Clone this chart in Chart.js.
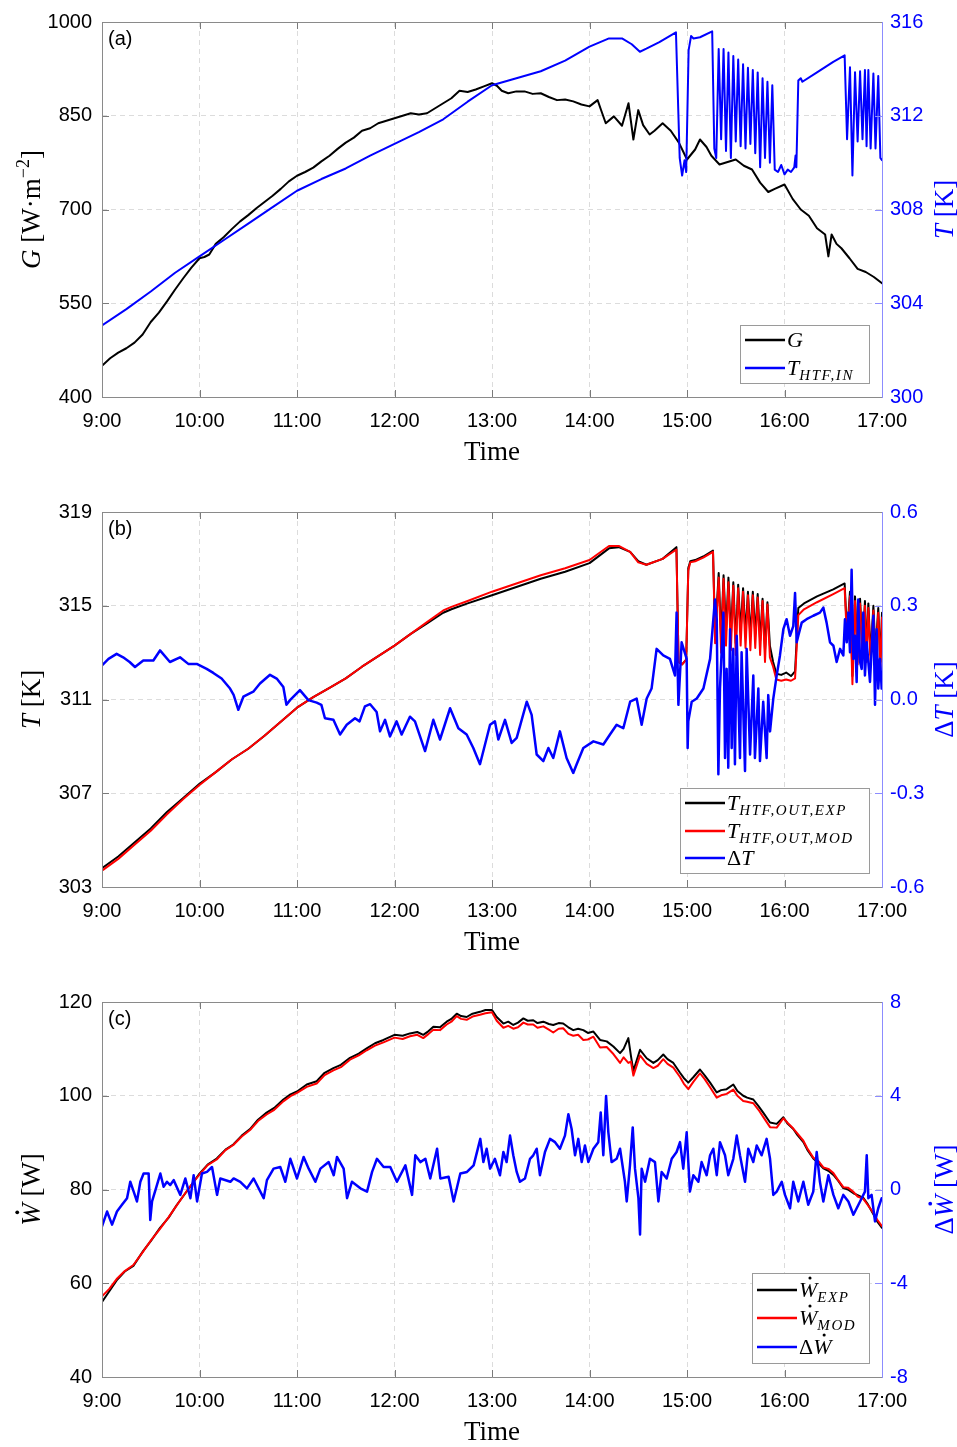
<!DOCTYPE html>
<html>
<head>
<meta charset="utf-8">
<script src="https://cdn.jsdelivr.net/npm/chart.js@4.4.0/dist/chart.umd.min.js"></script>
<style>
  body { margin: 0; background: #fff; overflow: hidden; }
  .panel { position: absolute; left: 0; width: 957px; height: 490px; }
</style>
</head>
<body>
<div class="panel" style="top:0px"><canvas id="chartA" width="957" height="490"></canvas></div>
<div class="panel" style="top:490px"><canvas id="chartB" width="957" height="490"></canvas></div>
<div class="panel" style="top:980px"><canvas id="chartC" width="957" height="490"></canvas></div>
<script>
// time is in minutes after 9:00
const xTicks = [0, 60, 120, 180, 240, 300, 360, 420, 480];
const xTickLabels = ['9:00', '10:00', '11:00', '12:00', '13:00', '14:00', '15:00', '16:00', '17:00'];

// (a) irradiance and inlet temperature
const gTicks = [400, 550, 700, 850, 1000];
const tinTicks = [300, 304, 308, 312, 316];
const gTime = [0,5,10,15,20,25,30,35,40,45,50,55,60,63,66,
  70,75,80,85,90,95,100,105,110,115,120,125,130,135,140,145,150,155,160,165,170,175,180,185,190,195,200,205,210,215,220,225,230,235,240,
  243,246,250,255,260,265,270,275,280,285,290,295,300,305,307,310,315,320,324,327,330,333,337,340,
  345,350,355,360,365,368,372,375,380,385,390,395,400,405,410,414,420,425,430,435,440,445,447,449,452,455,460,465,470,475,480];
const gVal = [450,462,471,478,487,500,520,535,553,572,590,607,622,624,628,
  645,656,669,681,691,702,712,722,733,745,754,760,767,777,786,797,807,815,826,830,838,842,846,850,854,852,854,862,870,878,890,888,892,897,902,
  898,890,886,889,889,885,886,880,875,876,873,868,865,875,860,838,849,834,870,812,859,835,820,826,
  838,826,807,780,796,812,800,786,772,776,780,770,764,743,728,733,740,717,700,690,670,660,625,660,645,638,622,605,600,592,582];
const tinTime = [0,15,30,45,60,75,90,105,120,135,150,165,180,195,210,225,240,255,270,285,300,312,320,326,331,335,343,
  353.2,355.5,357,358.5,359.5,361,362.5,364,368,375.5,376.8,378,
  379.5,381,382.5,384,385.5,387,388.5,390,391.5,393,394.5,396,397.5,399,400.5,402,403.5,405,406.5,408,409.5,411,412.5,414,
  416,418,420,422,424,426,426.8,427.3,428.5,430,431,440,450,457,
  458.5,460.3,461.8,463.4,465,466.5,468,469.5,470.5,471.6,473,474.7,476,477.7,479,480];
const tinVal = [303.05,303.75,304.5,305.3,306.0,306.7,307.4,308.1,308.8,309.3,309.75,310.3,310.8,311.3,311.85,312.6,313.3,313.6,313.9,314.35,314.95,315.3,315.3,315.05,314.73,314.86,315.14,
  315.56,310.2,309.45,310.1,309.6,314.8,315.4,315.3,315.35,315.6,310.6,310.2,
  314.85,311.0,314.85,310.5,314.7,310.2,314.55,310.9,314.4,310.7,314.2,310.6,314.05,310.8,313.95,310.4,313.85,309.8,313.6,310.2,313.45,310.0,313.3,309.7,
  309.6,309.9,309.5,309.7,309.6,309.8,310.3,309.8,313.5,313.6,313.45,313.85,314.3,314.58,
  311.0,314.07,309.45,313.86,310.9,313.9,311.0,313.95,310.7,313.95,310.6,313.8,310.6,313.7,310.2,310.1];

// (b) outlet temperatures and their difference
const toutTicks = [303, 307, 311, 315, 319];
const dtTicks = [-0.6, -0.3, 0, 0.3, 0.6];
const toutTime = [0,10,20,30,40,50,60,70,80,90,100,110,120,130,140,150,160,170,180,190,200,210,
  215,225,240,255,270,285,300,312,318,325,330,335,345,
  353.5,354.8,357,359.5,360.8,362,365,370,376,377.3,
  379.5,381,382.5,384,385.5,387,388.5,390,391.5,393,394.5,396,397.5,399,400.5,402,403.5,405,406.5,408,409.5,411,
  413,415,418,421,424,426.5,428.5,432,440,450,457,
  458.5,460.3,461.8,463.4,465,466.5,468,469.5,470.5,471.6,473,474.7,476,477.7,479,480];
const toutExp = [303.8,304.3,304.9,305.5,306.2,306.8,307.4,307.9,308.45,308.9,309.45,310.05,310.65,311.1,311.5,311.9,312.4,312.85,313.3,313.8,314.25,314.7,
  314.85,315.1,315.45,315.8,316.15,316.45,316.82,317.45,317.5,317.3,316.9,316.75,317.0,
  317.5,312.6,312.5,312.7,316.6,316.9,316.95,317.1,317.35,313.7,
  316.4,313.6,316.3,313.9,316.2,313.7,316.0,313.4,315.9,313.9,315.75,313.8,315.6,313.7,315.6,313.8,315.5,313.5,315.3,313.1,315.15,313.3,
  312.6,312.1,312.05,312.15,312.0,312.2,314.9,315.1,315.4,315.7,315.95,
  313.8,315.6,312.0,315.4,312.8,315.3,313.0,315.2,312.9,315.1,312.9,315.0,313.0,314.9,312.6,314.7];
const toutMod = [303.7,304.2,304.8,305.4,306.1,306.75,307.35,307.9,308.45,308.9,309.45,310.05,310.65,311.1,311.5,311.9,312.4,312.85,313.3,313.8,314.3,314.8,
  314.95,315.2,315.6,315.95,316.3,316.6,316.95,317.55,317.55,317.3,316.85,316.75,317.0,
  317.4,312.6,312.5,312.7,316.5,316.85,316.9,317.05,317.3,313.4,
  316.2,313.0,316.15,313.3,316.0,313.1,315.85,312.9,315.75,313.3,315.6,313.2,315.45,313.1,315.45,313.2,315.35,312.9,315.2,312.6,315.05,312.8,
  312.4,311.85,311.8,311.85,311.8,311.9,314.6,314.85,315.15,315.5,315.75,
  313.5,315.4,311.65,315.2,312.5,315.1,312.7,315.0,312.6,314.9,312.6,314.8,312.7,314.7,312.3,314.5];
const dtTime = [0,4,9,13,17,20.3,25.4,31.6,35.7,41.8,
  48,53.1,58.3,64.4,68.5,73.6,78.8,81,83.9,87,
  93.1,97.2,103.4,107.5,111.6,113.5,115.7,121.8,127,132.1,
  135,137.2,142.4,146.5,150.6,155.7,158.5,161.8,165,169,
  171.1,174.2,177.2,181.3,184.4,189.5,192.6,198.8,203.9,208,
  214.2,219.3,224.4,228.5,232.6,238.8,241.8,243.9,248,252.1,
  255.2,261.4,264.4,267.5,271.6,274.7,277.7,281.8,285.9,290,
  292.1,296.2,302.4,308.5,312.6,316.7,320.8,325,329,332.1,
  335.2,338.2,341.3,345.4,349.5,352.6,353.6,354.7,356.7,359.8,
  360.4,360.8,362.9,366,370.1,374.2,377.2,378.3,379.3,380.3,
  382.4,383.4,384.4,385.4,386.5,387.5,388.5,389.5,390.6,392.6,
  393.6,395.7,396.7,398.8,400.8,401.8,403.9,404.9,406.9,409,
  410,411.1,413.1,415.2,417.2,419.3,421.3,423.4,425.4,426.5,
  427.5,428.5,430.6,433.6,437.7,441.8,443.9,445.9,448,450.1,
  452.1,454.2,456.2,457.2,458.3,459.3,460.3,461.3,462.4,463.4,
  464.4,465.4,466.5,467.5,468.5,469.5,470.6,472.6,474.7,475.7,
  476.7,477.7,478.8,479.8];
const dtVal = [0.109,0.13,0.146,0.135,0.12,0.104,0.125,0.125,0.157,0.12,
  0.135,0.114,0.114,0.098,0.085,0.067,0.035,0.015,-0.033,0.009,
  0.025,0.051,0.079,0.067,0.04,-0.017,-0.002,0.03,-0.002,-0.01,
  -0.017,-0.06,-0.065,-0.112,-0.081,-0.06,-0.07,-0.022,-0.015,-0.04,
  -0.102,-0.065,-0.118,-0.07,-0.112,-0.055,-0.07,-0.165,-0.065,-0.128,
  -0.028,-0.092,-0.112,-0.155,-0.207,-0.081,-0.07,-0.128,-0.065,-0.139,
  -0.123,-0.007,-0.049,-0.176,-0.197,-0.155,-0.187,-0.102,-0.187,-0.235,
  -0.207,-0.155,-0.134,-0.144,-0.112,-0.081,-0.092,-0.007,0.003,-0.081,
  0.003,0.035,0.162,0.141,0.13,0.077,0.278,-0.017,0.183,0.13,
  -0.155,-0.07,-0.007,0.003,0.035,0.13,0.32,0.257,-0.239,0.035,
  0.278,-0.187,0.098,-0.218,0.225,-0.155,0.162,-0.207,0.204,-0.187,
  0.151,-0.229,0.162,-0.176,0.077,-0.187,0.035,-0.197,-0.007,-0.187,
  0.014,-0.102,0.003,0.077,0.141,0.225,0.257,0.204,0.235,0.341,
  0.183,0.204,0.246,0.257,0.268,0.278,0.294,0.246,0.183,0.172,
  0.12,0.162,0.141,0.257,0.183,0.278,0.151,0.415,0.13,0.204,
  0.056,0.32,0.12,0.098,0.278,0.077,0.183,0.056,0.268,-0.017,
  0.225,0.035,0.13,0.035];

// (c) power and its difference
const wTicks = [40, 60, 80, 100, 120];
const dwTicks = [-8, -4, 0, 4, 8];
const wTime = [0,4.5,9,14,19.3,25.4,30,35.7,41,46,
  53,60,65,70.6,76,80.8,86,91.1,96,101.3,
  106,111.6,116,120,126,132.1,137,142.4,147,152.6,
  158,162.9,168,173.2,180,185,189.5,194,197.7,201,
  203.9,208,212.1,215,218.3,221,224.4,228,232.6,236,
  240,242.9,247,250,253.1,256,259.3,262,265.4,268,
  271.6,275,277.7,281,283.8,287,290,293,296.2,299,
  302.4,306.5,310.6,314.7,318.8,321,323.9,325.5,327,331.1,
  335.2,339.3,342,345.4,348,351.6,355.7,358,360.8,364,
  368,371,374.2,378.3,381,384.4,388.5,391,394.6,397,
  400.8,404,406.9,411.1,415.2,419.3,422,425.4,428,431.6,
  434,437.7,441,443.9,447,450.1,453,456.2,459,462.4,
  465,468.5,471,474.7,477,480];
const wExp = [56.0,58.3,60.6,62.5,63.7,66.9,69.0,71.8,74.0,76.7,
  80.0,83.4,85.3,86.6,88.5,89.6,91.5,92.9,94.9,96.4,
  97.4,99.2,100.3,100.9,102.4,103.1,104.9,105.9,106.6,108.1,
  109.0,110.1,111.2,111.9,113.0,112.8,113.3,113.6,113.0,113.8,
  114.7,114.6,115.8,116.4,117.5,117.0,116.8,117.5,117.9,118.3,
  118.3,116.8,115.4,115.8,115.1,115.6,116.5,116.0,116.1,115.5,
  115.8,115.3,115.1,115.5,115.4,114.6,114.0,114.3,114.0,113.4,
  113.7,111.9,111.6,110.5,109.1,110.0,112.3,108.5,105.3,109.8,
  108.0,107.0,107.6,108.8,107.8,107.0,104.9,103.8,102.8,104.0,
  105.6,104.3,102.8,100.7,101.2,101.4,102.4,101.0,100.0,99.6,
  99.2,97.8,96.4,94.3,94.0,95.4,94.0,92.9,91.6,90.1,
  88.5,86.6,85.6,84.5,84.0,83.1,81.9,80.3,80.0,79.2,
  78.8,78.2,77.0,74.7,73.2,71.8];
const wMod = [57.2,58.8,60.9,62.6,63.9,66.8,69.1,71.6,74.1,76.6,
  80.1,83.2,85.2,86.4,88.4,89.5,91.3,92.7,94.6,96.0,
  97.0,98.8,99.9,100.6,101.9,102.6,104.4,105.4,106.1,107.7,
  108.6,109.7,110.7,111.4,112.4,112.1,112.7,113.0,112.3,113.2,
  114.1,114.0,115.2,115.8,117.0,116.4,116.2,116.9,117.3,117.6,
  117.8,116.0,114.5,114.9,114.3,114.6,115.6,115.2,115.2,114.5,
  114.8,114.1,113.5,114.3,114.4,113.2,112.8,113.0,111.9,112.0,
  112.6,110.3,110.4,108.9,107.0,108.2,107.0,107.3,104.3,108.6,
  106.8,105.9,106.4,107.8,106.8,106.0,104.0,102.6,101.4,103.0,
  104.8,103.5,101.8,99.6,100.1,100.4,101.3,100.0,98.9,98.7,
  98.4,97.0,95.5,93.3,93.2,95.2,94.2,93.0,91.9,90.4,
  88.8,86.8,86.0,84.7,84.4,83.5,82.0,80.5,80.4,79.5,
  78.5,78.0,76.8,75.0,73.6,72.2];
const dwTime = [0,3.1,6.2,9.2,12.3,15.4,17.4,19.5,21.5,23.6,
  25.6,28.7,29.7,30.8,33.8,35.9,37.9,40,42,44.1,
  48.2,51.3,54.4,56.4,58.5,61.5,64.6,67.7,70.8,72.8,
  79,81,85.1,89.2,93.3,99.5,101.5,105.6,109.7,112.8,
  115.9,120,124.1,127.2,131.3,134.4,139.5,142.6,144.6,148.7,
  150.8,153.8,159,163.1,166.2,169.2,173.3,177.4,181.5,186.7,
  190.8,192.8,195.9,199,202,206.2,208.2,213.3,216.4,220.5,
  224.6,228.7,232.8,234.7,236.7,238.8,241.8,244.9,247,249,
  251.1,253.1,255.2,257.2,260.3,263.4,265.4,267.5,269.5,272.6,
  275.7,278.8,281.8,284.9,287,289,291.1,293.1,295.2,297.2,
  299.3,302.4,305.4,306.9,308.5,310.2,311.6,313.6,316.7,318.8,
  321.8,322.9,324.9,326.6,328,330.1,331.1,332.1,334.2,337.2,
  340.3,342.4,344.4,347.5,350.6,353.6,355.7,357.7,359.8,361.8,
  363.9,367,369,372.1,374.2,376.2,378.3,380.3,383.4,385.4,
  388.5,390.6,392.6,395.7,397.7,400.8,402.9,405.9,409,411.1,
  413.1,415.2,418.3,420.3,423.4,425.4,428.5,431.6,434.6,437.7,
  439.8,441.8,443.9,447,450.1,453.1,456.2,459.3,462.4,466.5,
  469.5,470.6,471.6,473.6,475.7,477.7,479.8];
const dwVal = [-1.57,-0.94,-1.5,-0.94,-0.65,-0.37,0.33,-0.09,-0.51,0.33,
  0.68,0.68,-1.3,-0.51,0.19,0.68,0.12,0.33,0.19,0.4,
  -0.23,0.47,-0.37,0.61,-0.51,0.68,0.75,0.96,-0.23,0.47,
  0.33,0.47,0.33,0.05,0.47,-0.37,0.4,0.89,0.96,0.33,
  1.31,0.47,1.39,0.89,0.33,0.89,1.17,0.61,1.39,0.89,
  -0.37,0.33,0.05,-0.09,0.75,1.31,0.96,0.96,0.33,1.03,
  -0.23,1.46,1.17,1.31,0.47,1.74,0.47,0.54,-0.51,0.68,
  0.75,1.03,2.16,1.17,1.74,0.89,1.31,0.61,1.6,1.17,
  2.3,1.46,0.75,0.33,0.47,1.31,1.46,1.74,0.61,1.6,
  2.16,2.02,1.74,2.3,3.21,2.58,1.46,2.16,1.17,1.88,
  1.17,1.74,2.02,3.29,1.46,3.99,2.44,1.17,1.31,1.74,
  0.33,-0.51,1.03,2.65,0.89,-0.37,-1.92,0.89,0.33,1.31,
  1.17,-0.51,0.75,0.47,1.31,1.6,2.02,0.89,2.44,-0.09,
  0.61,0.33,1.17,0.61,1.46,1.74,0.61,2.02,1.46,0.61,
  1.31,2.3,1.46,0.33,1.74,1.17,1.88,1.46,2.16,1.31,
  -0.23,-0.09,0.33,-0.23,-0.8,0.33,-0.51,0.33,-0.65,-0.09,
  1.6,0.33,-0.51,0.61,-0.23,-0.8,-0.23,-0.51,-1.08,-0.51,
  -0.09,1.46,-0.37,-0.23,-1.36,-0.8,-0.37];

const BLUE = '#0000ff';
const SERIF = '"Liberation Serif", "Times New Roman", serif';
Chart.defaults.font.family = '"Liberation Sans", Arial, sans-serif';
Chart.defaults.font.size = 20;
Chart.defaults.color = '#000';

function pairs(ts, vs) {
  return ts.map((t, i) => ({ x: t, y: vs[i] }));
}

// sub/sup parts are drawn smaller; `subSize`/`subDrop` tune them per use
function partFont(p, size, subSize) {
  const fs = (p.sub || p.sup) ? (subSize || Math.round(size * 0.66)) : size;
  return (p.it ? 'italic ' : '') + fs + 'px ' + SERIF;
}

function setSpacing(ctx, p, spacing) {
  if ('letterSpacing' in ctx) ctx.letterSpacing = (p.sub && spacing) ? spacing + 'px' : '0px';
}

function richWidth(ctx, parts, size, st) {
  st = st || {};
  let w = 0;
  parts.forEach(p => {
    ctx.font = partFont(p, size, st.subSize);
    setSpacing(ctx, p, st.spacing);
    w += ctx.measureText(p.t).width;
  });
  setSpacing(ctx, {}, 0);
  return w;
}

function drawRich(ctx, parts, x, y, size, color, st) {
  st = st || {};
  ctx.fillStyle = color;
  ctx.textAlign = 'left';
  ctx.textBaseline = 'alphabetic';
  parts.forEach(p => {
    ctx.font = partFont(p, size, st.subSize);
    setSpacing(ctx, p, st.spacing);
    const dy = p.sub ? (st.subDrop !== undefined ? st.subDrop : size * 0.3) : (p.sup ? -size * 0.42 : 0);
    ctx.fillText(p.t, x, y + dy);
    const w = ctx.measureText(p.t).width;
    if (p.dot) {
      ctx.beginPath();
      ctx.arc(x + w * 0.6, y - size * 0.86, size * 0.07, 0, Math.PI * 2);
      ctx.fill();
    }
    x += w;
  });
  setSpacing(ctx, {}, 0);
}

function drawRotated(ctx, parts, cx, cy, size, color) {
  ctx.save();
  ctx.translate(cx, cy);
  ctx.rotate(-Math.PI / 2);
  const w = richWidth(ctx, parts, size);
  drawRich(ctx, parts, -w / 2, size * 0.35, size, color);
  ctx.restore();
}

function makePanel(canvasId, p) {
  const decor = {
    id: 'decor',
    afterDatasetsDraw(chart) {
      const ctx = chart.ctx;
      const a = chart.chartArea;
      const xs = chart.scales.x, yl = chart.scales.y, yr = chart.scales.y2;
      ctx.save();
      ctx.lineWidth = 1;
      // inward tick marks
      ctx.strokeStyle = '#7a7a7a';
      ctx.beginPath();
      xTicks.forEach(v => {
        const px = Math.round(xs.getPixelForValue(v)) + 0.5;
        ctx.moveTo(px, a.bottom); ctx.lineTo(px, a.bottom - 7);
        ctx.moveTo(px, a.top); ctx.lineTo(px, a.top + 7);
      });
      p.leftTicks.forEach(v => {
        const py = Math.round(yl.getPixelForValue(v)) + 0.5;
        ctx.moveTo(a.left, py); ctx.lineTo(a.left + 7, py);
      });
      ctx.stroke();
      ctx.strokeStyle = '#8c8cff';
      ctx.beginPath();
      p.rightTicks.forEach(v => {
        const py = Math.round(yr.getPixelForValue(v)) + 0.5;
        ctx.moveTo(a.right, py); ctx.lineTo(a.right - 7, py);
      });
      ctx.stroke();
      // box
      ctx.strokeStyle = '#8a8a8a';
      ctx.beginPath();
      ctx.moveTo(a.right, a.top + 0.5);
      ctx.lineTo(a.left + 0.5, a.top + 0.5);
      ctx.lineTo(a.left + 0.5, a.bottom + 0.5);
      ctx.lineTo(a.right, a.bottom + 0.5);
      ctx.stroke();
      ctx.strokeStyle = '#8c8cff';
      ctx.beginPath();
      ctx.moveTo(a.right + 0.5, a.top);
      ctx.lineTo(a.right + 0.5, a.bottom + 1);
      ctx.stroke();

      // panel label
      ctx.fillStyle = '#000';
      ctx.font = '20px "Liberation Sans", Arial, sans-serif';
      ctx.textAlign = 'left';
      ctx.textBaseline = 'middle';
      ctx.fillText(p.label, 108, 39);

      // axis titles
      const tw = richWidth(ctx, [{ t: 'Time' }], 27);
      drawRich(ctx, [{ t: 'Time' }], (a.left + a.right) / 2 - tw / 2, 460, 27, '#000');
      const cy = (a.top + a.bottom) / 2;
      drawRotated(ctx, p.leftTitle, 31, cy, 27, '#000');
      drawRotated(ctx, p.rightTitle, 944, cy, 27, BLUE);

      // legend
      const L = p.legend;
      ctx.fillStyle = '#fff';
      ctx.fillRect(L.x, L.y, L.w, L.h);
      ctx.strokeStyle = '#9a9a9a';
      ctx.lineWidth = 1;
      ctx.strokeRect(L.x + 0.5, L.y + 0.5, L.w, L.h);
      L.entries.forEach(e => {
        ctx.strokeStyle = e.color;
        ctx.lineWidth = 2.5;
        ctx.beginPath();
        ctx.moveTo(L.x + 5, e.y);
        ctx.lineTo(L.x + 45, e.y);
        ctx.stroke();
        drawRich(ctx, e.parts, L.x + 47, e.y + 7, 22, '#000', { subSize: 15, subDrop: 5, spacing: 1.6 });
      });
      ctx.restore();
    }
  };

  new Chart(document.getElementById(canvasId), {
    type: 'line',
    data: { datasets: p.datasets },
    options: {
      responsive: false,
      animation: false,
      devicePixelRatio: 1,
      layout: { padding: { top: 18, left: 0, right: 0, bottom: 0 } },
      elements: {
        point: { radius: 0 },
        line: { tension: 0, borderJoinStyle: 'round', borderCapStyle: 'round' }
      },
      plugins: { legend: { display: false }, tooltip: { enabled: false } },
      scales: {
        x: {
          type: 'linear', min: 0, max: 480,
          afterBuildTicks: s => { s.ticks = xTicks.map(v => ({ value: v })); },
          afterFit: s => { s.height = 93; },
          ticks: { autoSkip: false, maxRotation: 0, padding: 12, callback: (v, i) => xTickLabels[i] },
          grid: { color: '#dcdcdc', drawTicks: false },
          border: { display: false, dash: [5, 4] }
        },
        y: {
          position: 'left', min: p.leftTicks[0], max: p.leftTicks[p.leftTicks.length - 1],
          afterBuildTicks: s => { s.ticks = p.leftTicks.map(v => ({ value: v })); },
          afterFit: s => { s.width = 102; },
          ticks: { padding: 10, callback: v => String(v) },
          grid: { color: '#dcdcdc', drawTicks: false },
          border: { display: false, dash: [5, 4] }
        },
        y2: {
          position: 'right', min: p.rightTicks[0], max: p.rightTicks[p.rightTicks.length - 1],
          afterBuildTicks: s => { s.ticks = p.rightTicks.map(v => ({ value: v })); },
          afterFit: s => { s.width = 75; },
          ticks: { padding: 8, color: BLUE, callback: p.rightFmt },
          grid: { drawOnChartArea: false, drawTicks: false },
          border: { display: false }
        }
      }
    },
    plugins: [decor]
  });
}

makePanel('chartA', {
  label: '(a)',
  leftTicks: gTicks,
  rightTicks: tinTicks,
  rightFmt: v => String(v),
  leftTitle: [{ t: 'G', it: 1 }, { t: ' [W\u00b7m' }, { t: '\u22122', sup: 1 }, { t: ']' }],
  rightTitle: [{ t: 'T', it: 1 }, { t: ' [K]' }],
  datasets: [
    { data: pairs(tinTime, tinVal), yAxisID: 'y2', borderColor: BLUE, borderWidth: 2 },
    { data: pairs(gTime, gVal), yAxisID: 'y', borderColor: '#000', borderWidth: 2 }
  ],
  legend: {
    x: 740, y: 325, w: 129, h: 58,
    entries: [
      { color: '#000', y: 340, parts: [{ t: 'G', it: 1 }] },
      { color: BLUE, y: 368, parts: [{ t: 'T', it: 1 }, { t: 'HTF,IN', it: 1, sub: 1 }] }
    ]
  }
});

makePanel('chartB', {
  label: '(b)',
  leftTicks: toutTicks,
  rightTicks: dtTicks,
  rightFmt: v => v.toFixed(1),
  leftTitle: [{ t: 'T', it: 1 }, { t: ' [K]' }],
  rightTitle: [{ t: '\u0394' }, { t: 'T', it: 1 }, { t: ' [K]' }],
  datasets: [
    { data: pairs(dtTime, dtVal), yAxisID: 'y2', borderColor: BLUE, borderWidth: 2.5 },
    { data: pairs(toutTime, toutMod), yAxisID: 'y', borderColor: '#ff0000', borderWidth: 2 },
    { data: pairs(toutTime, toutExp), yAxisID: 'y', borderColor: '#000', borderWidth: 2 }
  ],
  legend: {
    x: 680, y: 298, w: 189, h: 85,
    entries: [
      { color: '#000', y: 313, parts: [{ t: 'T', it: 1 }, { t: 'HTF,OUT,EXP', it: 1, sub: 1 }] },
      { color: '#ff0000', y: 341, parts: [{ t: 'T', it: 1 }, { t: 'HTF,OUT,MOD', it: 1, sub: 1 }] },
      { color: BLUE, y: 368, parts: [{ t: '\u0394' }, { t: 'T', it: 1 }] }
    ]
  }
});

makePanel('chartC', {
  label: '(c)',
  leftTicks: wTicks,
  rightTicks: dwTicks,
  rightFmt: v => String(v),
  leftTitle: [{ t: 'W', it: 1, dot: 1 }, { t: ' [W]' }],
  rightTitle: [{ t: '\u0394' }, { t: 'W', it: 1, dot: 1 }, { t: ' [W]' }],
  datasets: [
    { data: pairs(dwTime, dwVal), yAxisID: 'y2', borderColor: BLUE, borderWidth: 2.5 },
    { data: pairs(wTime, wMod), yAxisID: 'y', borderColor: '#ff0000', borderWidth: 2 },
    { data: pairs(wTime, wExp), yAxisID: 'y', borderColor: '#000', borderWidth: 2 }
  ],
  legend: {
    x: 752, y: 293, w: 117, h: 90,
    entries: [
      { color: '#000', y: 310, parts: [{ t: 'W', it: 1, dot: 1 }, { t: 'EXP', it: 1, sub: 1 }] },
      { color: '#ff0000', y: 338, parts: [{ t: 'W', it: 1, dot: 1 }, { t: 'MOD', it: 1, sub: 1 }] },
      { color: BLUE, y: 367, parts: [{ t: '\u0394' }, { t: 'W', it: 1, dot: 1 }] }
    ]
  }
});
</script>
</body>
</html>
